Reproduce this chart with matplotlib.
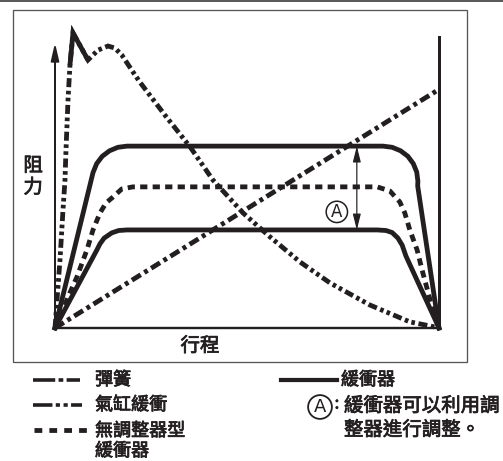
import matplotlib
matplotlib.use('Agg')
import matplotlib.pyplot as plt
from matplotlib.lines import Line2D
from matplotlib.patches import Rectangle
import matplotlib.patheffects as pe

plt.rcParams['font.family'] = ['Noto Sans CJK TC', 'DejaVu Sans']
plt.rcParams['lines.scale_dashes'] = False

INK = '#231f20'
BOLDISH = [pe.withStroke(linewidth=0.55, foreground=INK)]

# ---- data: stroke (% of stroke) vs resistance (relative) ----
spring_x = [0, 100]
spring_y = [0, 82]

air_x = [0, 0.52, 1.3, 2.08, 2.6, 2.86, 3.39, 3.9, 4.69, 8.59, 11.2, 13.8, 15.6, 17.4,
         20.3, 22.1, 28.6, 35.2, 41.1, 49.0, 56.0, 63.8, 71.6, 82.0, 92.4, 97.7, 100]
air_y = [0, 9.6, 23.4, 40.5, 50.9, 61.2, 78.4, 90.4, 101.4, 92.1, 95.5, 96.9, 96.2, 93.8,
         88.0, 84.5, 73.2, 62.2, 50.9, 39.5, 31.3, 22.7, 15.5, 7.9, 2.1, 0.7, 0]

nonadj_x = [0, 1.8, 3.4, 5.7, 8.3, 9.9, 11.7, 13.3, 15.1, 17.4, 20.3,
            83.9, 87.2, 89.8, 91.1, 92.4, 94.3, 95.8, 97.7, 100]
nonadj_y = [0, 5.2, 10.7, 17.5, 26.8, 33.7, 39.5, 43.0, 45.0, 47.8, 48.5,
            48.5, 47.1, 43.3, 39.5, 33.7, 26.8, 18.9, 9.6, 0]

adj_hi_x = [0, 9.9, 10.86, 12.3, 14.2, 16.4, 18.75, 85.4, 87.8, 90.0, 91.9, 93.3, 94.2,
            94.5, 94.45, 100]
adj_hi_y = [0, 53.4, 56.5, 59.0, 60.9, 62.1, 62.5, 62.5, 62.1, 60.9, 59.0, 56.5, 53.6,
            50.5, 48.8, 0]

adj_lo_x = [0, 10.9, 11.7, 12.8, 14.8, 16.6, 18.75, 83.9, 86.2, 87.8, 89.3, 90.4, 91.4, 100]
adj_lo_y = [0, 26.8, 28.9, 30.9, 32.7, 33.5, 33.7, 33.7, 33.5, 32.8, 30.9, 28.5, 24.7, 0]

axis_top = 98
right_wall = 100
adjust_x = 78.6

legend_left = ['彈簧', '氣缸緩衝', '無調整器型\n緩衝器']
legend_right = '緩衝器'
note_lines = ['緩衝器可以利用調', '整器進行調整。']
ylabel = '阻\n力'
xlabel = '行程'

W, H = 503, 461
fig = plt.figure(figsize=(W / 100, H / 100), dpi=100)

ov = fig.add_axes([0, 0, 1, 1])
ov.set_xlim(0, W)
ov.set_ylim(H, 0)
ov.axis('off')

ax = fig.add_axes([55 / W, (H - 328) / H, 384 / W, 291 / H])
ax.set_xlim(0, 100)
ax.set_ylim(0, 100)
ax.axis('off')

PX = 0.72  # points per pixel
LW = 4.8 * PX

spring_ls = (0, (7.5, 3, 2.8, 3))
air_ls = (0, (6.5, 2.6, 2.6, 2.4, 2.6, 2.6))
dash_ls = (0, (5.2, 3.8))

# curves
ax.plot(spring_x, spring_y, color=INK, lw=LW, ls=spring_ls, dash_capstyle='butt', clip_on=False)
ax.plot(air_x, air_y, color=INK, lw=LW, ls=air_ls, dash_capstyle='butt',
        dash_joinstyle='miter', clip_on=False)
ax.plot(air_x[7:10], air_y[7:10], color=INK, lw=LW, solid_joinstyle='miter',
        solid_capstyle='butt', clip_on=False)
ax.plot(nonadj_x, nonadj_y, color=INK, lw=LW, ls=dash_ls, dash_capstyle='butt', clip_on=False)
ax.plot(adj_hi_x, adj_hi_y, color=INK, lw=LW, solid_joinstyle='round', clip_on=False)
ax.plot(adj_lo_x, adj_lo_y, color=INK, lw=LW, solid_joinstyle='round', clip_on=False)

# axes lines
ax.plot([0, 100], [0, 0], color=INK, lw=2.4 * PX, clip_on=False)
ax.plot([100, 100], [0, right_wall], color=INK, lw=3.0 * PX, clip_on=False)
ax.annotate('', xy=(0, axis_top), xytext=(0, 0),
            arrowprops=dict(arrowstyle='-|>,head_length=1.3,head_width=0.3', lw=2.0 * PX,
                            color=INK, mutation_scale=8, shrinkA=0, shrinkB=0))
ax.annotate('', xy=(adjust_x, adj_hi_y[6]), xytext=(adjust_x, adj_lo_y[6]),
            arrowprops=dict(arrowstyle='<|-|>,head_length=1.2,head_width=0.3', lw=1.2 * PX,
                            color=INK, mutation_scale=8, shrinkA=0, shrinkB=0))
ax.text(73.4, 39.9, 'A', ha='center', va='center', fontsize=12, color=INK,
        fontfamily=['DejaVu Sans'],
        bbox=dict(boxstyle='circle,pad=0.1', fc='white', ec=INK, lw=1.1))

ax.text(-5.7, 52, ylabel, ha='center', va='center', fontsize=14, color=INK, linespacing=1.05,
        path_effects=BOLDISH)
ov.text(200, 346, xlabel, ha='center', va='center', fontsize=14, color=INK,
        path_effects=BOLDISH)

# frame
ov.plot([0, W], [0.8, 0.8], color='#333333', lw=1.6 * PX)
ov.add_patch(Rectangle((13, 10), 454, 352, fill=False, ec='#555555', lw=1.3 * PX))

# legend (left)
ov.add_line(Line2D([33, 80], [380, 380], color=INK, lw=3.6 * PX,
                   ls=(0, (16, 2.4, 3.4, 2.4, 20, 0)), dash_capstyle='butt'))
ov.add_line(Line2D([33, 82], [405, 405], color=INK, lw=3.6 * PX,
                   ls=(0, (14, 2.4, 3, 2.6, 3, 2.4, 20, 0)), dash_capstyle='butt'))
ov.add_line(Line2D([34, 88], [430, 430], color=INK, lw=4.8 * PX,
                   ls=(0, (5.6, 5.1)), dash_capstyle='butt'))
ov.text(95, 380, legend_left[0], ha='left', va='center', fontsize=13, color=INK,
        path_effects=BOLDISH)
ov.text(95, 405, legend_left[1], ha='left', va='center', fontsize=13, color=INK,
        path_effects=BOLDISH)
ov.text(95, 441, legend_left[2], ha='left', va='center', fontsize=13, color=INK,
        linespacing=1.15, path_effects=BOLDISH)

# legend (right)
ov.add_line(Line2D([281, 337], [380, 380], color=INK, lw=4.2 * PX))
ov.text(341, 380, legend_right, ha='left', va='center', fontsize=13, color=INK,
        path_effects=BOLDISH)
ov.text(320, 407, 'A', ha='center', va='center', fontsize=13, color=INK,
        fontfamily=['DejaVu Sans'],
        bbox=dict(boxstyle='circle,pad=0.16', fc='white', ec=INK, lw=1.3))
ov.text(337, 404, ':', ha='center', va='center', fontsize=12, color=INK,
        path_effects=BOLDISH)
ov.text(344, 406, note_lines[0], ha='left', va='center', fontsize=14, color=INK,
        path_effects=BOLDISH)
ov.text(344, 430, note_lines[1], ha='left', va='center', fontsize=14, color=INK,
        path_effects=BOLDISH)

fig.savefig('out.png', dpi=100)
